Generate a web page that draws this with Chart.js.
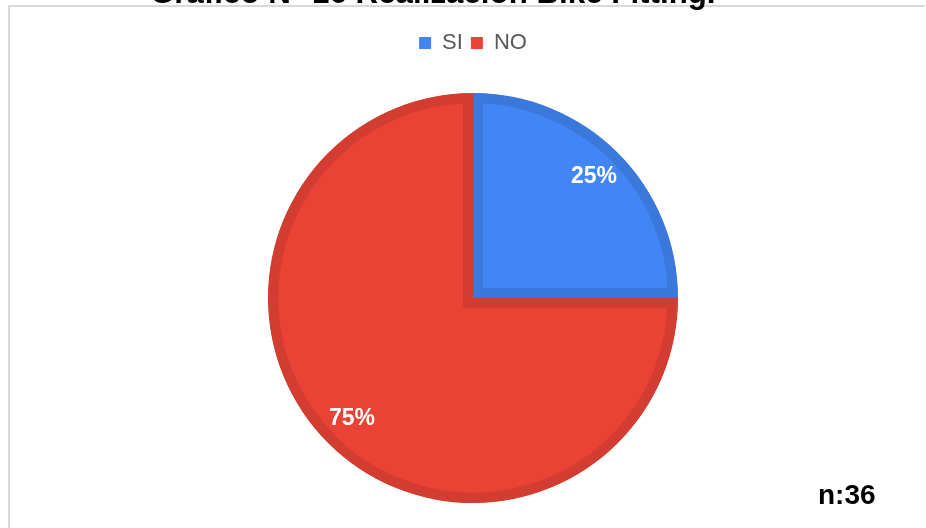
<!DOCTYPE html>
<html lang="es">
<head>
<meta charset="UTF-8">
<title>Realización Bike Fitting</title>
<script src="https://cdn.jsdelivr.net/npm/chart.js"></script>
<style>
  html, body { margin: 0; padding: 0; background: #fff; overflow: hidden; }
  .pagina { position: relative; width: 926px; height: 528px; overflow: hidden; }
  .marco { position: absolute; left: 8px; top: 5px; right: 1px; bottom: -10px;
           border-left: 2px solid #d9d9d9; border-top: 2px solid #d9d9d9; }
  .titulo { position: absolute; left: 150px; top: -23px; white-space: nowrap;
            font: bold 31.3px "Liberation Sans", Arial, sans-serif; line-height: 31px; color: #000; }
  .muestra { position: absolute; left: 818px; top: 481px;
             font: bold 28px "Liberation Sans", Arial, sans-serif; line-height: 28px; color: #000; }
  #graficoTorta { position: absolute; left: 0; top: 0; }
</style>
</head>
<body>
<div class="pagina">
  <div class="marco"></div>
  <canvas id="graficoTorta" width="926" height="532"></canvas>
  <div class="titulo">Gráfico N° 16 Realización Bike Fitting.</div>
  <div class="muestra">n:36</div>
</div>

<script>
// respuestas de la encuesta (n = 36)
var categorias = ['SI', 'NO'];
var respuestas = [9, 27];
var coloresRelleno = ['#4285f4', '#ea4335'];
var coloresBorde = ['#3b78db', '#d33c31'];

// porcentaje dentro de cada porción
var etiquetasPorcentaje = {
  id: 'etiquetasPorcentaje',
  afterDatasetsDraw: function (chart) {
    var ctx = chart.ctx;
    var meta = chart.getDatasetMeta(0);
    var datos = chart.data.datasets[0].data;
    var total = datos.reduce(function (a, b) { return a + b; }, 0);
    ctx.save();
    ctx.font = 'bold 23px "Liberation Sans", Arial, sans-serif';
    ctx.fillStyle = '#ffffff';
    ctx.textAlign = 'center';
    ctx.textBaseline = 'middle';
    meta.data.forEach(function (arco, i) {
      var p = arco.getProps(['x', 'y', 'startAngle', 'endAngle', 'outerRadius'], true);
      var medio = (p.startAngle + p.endAngle) / 2;
      var r = p.outerRadius * 0.835;
      var texto = Math.round(datos[i] / total * 100) + '%';
      ctx.fillText(texto, p.x + Math.cos(medio) * r, p.y + Math.sin(medio) * r);
    });
    ctx.restore();
  }
};

var ctx = document.getElementById('graficoTorta').getContext('2d');
new Chart(ctx, {
  type: 'pie',
  data: {
    labels: categorias,
    datasets: [{
      data: respuestas,
      backgroundColor: coloresRelleno,
      borderColor: coloresBorde,
      borderWidth: 10,
      borderAlign: 'inner',
      borderJoinStyle: 'miter'
    }]
  },
  options: {
    responsive: false,
    animation: false,
    radius: 205,
    layout: { padding: { top: 24, left: 20, right: 0, bottom: 0 } },
    plugins: {
      legend: {
        position: 'top',
        labels: {
          boxWidth: 12,
          boxHeight: 12,
          padding: 8,
          color: '#595959',
          font: { family: '"Liberation Sans", Arial, sans-serif', size: 22 },
          generateLabels: function (chart) {
            return Chart.overrides.pie.plugins.legend.labels.generateLabels(chart).map(function (item, i) {
              item.fillStyle = coloresRelleno[i];
              item.lineWidth = 0;
              return item;
            });
          }
        }
      },
      tooltip: { enabled: false }
    }
  },
  plugins: [etiquetasPorcentaje]
});
</script>
</body>
</html>
